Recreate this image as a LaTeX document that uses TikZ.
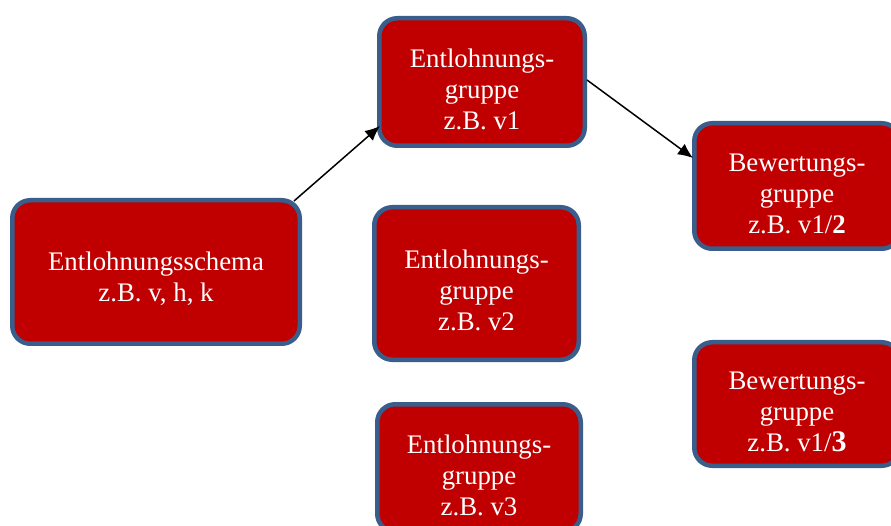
\documentclass[tikz,border=0pt]{standalone}
\usepackage{fontspec}
\setmainfont{Liberation Serif}
\usetikzlibrary{arrows.meta}
\definecolor{boxred}{HTML}{C00000}
\definecolor{boxedge}{HTML}{3A5E8C}
\newcommand{\oben}{\rule{0pt}{33pt}}
\tikzset{gruppe/.style={draw=boxedge,fill=boxred,line width=4.5pt,rounded corners=18pt,text=white,align=center,inner sep=0pt,font=\fontsize{26.8}{31}\selectfont}}
\tikzset{pfeil/.style={-{Latex[length=15pt,width=13pt]},line width=1.5pt,black}}

\begin{document}
\begin{tikzpicture}[x=1pt,y=-1pt]
	\clip (0,0) rectangle (891,526);
	\useasboundingbox (0,0) rectangle (891,526);
	\node[gruppe,minimum width=287.5pt,minimum height=143.5pt] (schema) at (156,272)
		{\oben Entlohnungsschema\\z.B. v, h, k};
	\node[gruppe,minimum width=205.5pt,minimum height=127.5pt] (eg1) at (482,82)
		{\oben Entlohnungs-\\gruppe\\z.B. v1};
	\node[gruppe,minimum width=204.5pt,minimum height=152.5pt] (eg2) at (476.5,283.5)
		{\oben Entlohnungs-\\gruppe\\z.B. v2};
	\node[gruppe,minimum width=203.5pt,minimum height=127.5pt] (eg3) at (479,468)
		{\oben Entlohnungs-\\gruppe\\z.B. v3};
	\node[gruppe,minimum width=205.5pt,minimum height=125.5pt] (bg2) at (797,186)
		{\oben Bewertungs-\\gruppe\\z.B. v1/\textbf{2}};
	\node[gruppe,minimum width=205.5pt,minimum height=123.5pt] (bg3) at (797,404)
		{\oben Bewertungs-\\gruppe\\z.B. v1/\textbf{\fontsize{30}{31}\selectfont 3}};
	
	\draw[pfeil] ([xshift=-8pt,yshift=-3pt]schema.north east) -- ([xshift=3pt,yshift=22pt]eg1.south west);
	\draw[pfeil] ([yshift=2pt]eg1.east) -- ([xshift=1pt,yshift=28pt]bg2.west);
\end{tikzpicture}
\end{document}
